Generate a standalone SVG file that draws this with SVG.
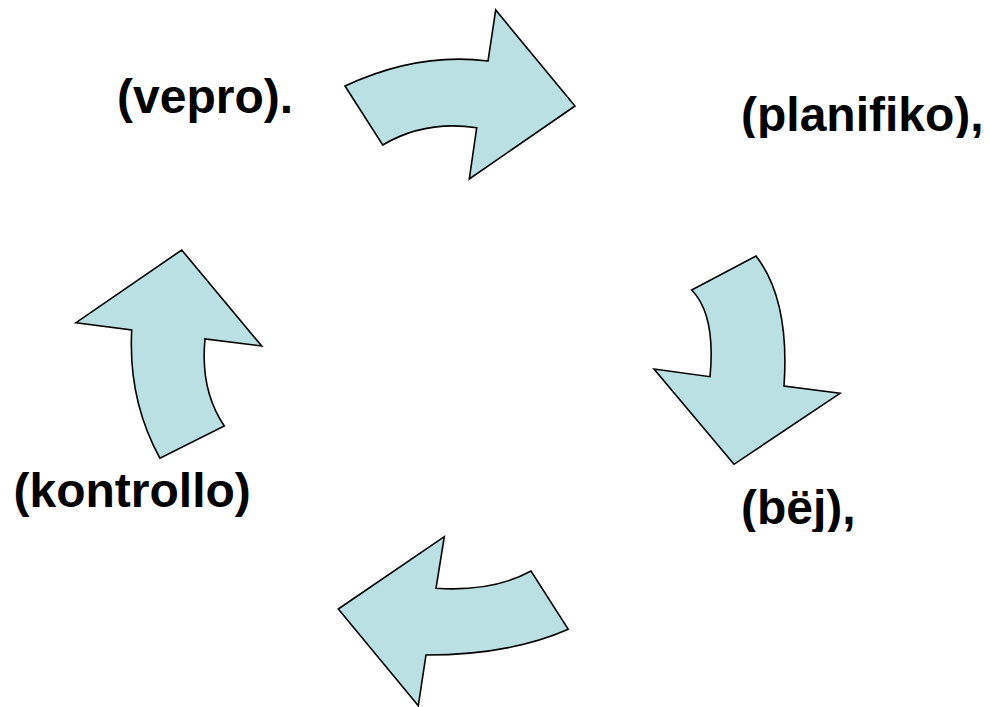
<svg xmlns="http://www.w3.org/2000/svg" width="990" height="707" viewBox="0 0 990 707">
<style>
.arrow{fill:#BBE0E3;stroke:#000;stroke-width:1.6;stroke-linejoin:miter}
.lbl{font-family:"Liberation Sans",Arial,sans-serif;font-weight:bold;font-size:48px;fill:#000}
</style>
<defs>
<clipPath id="c1"><rect x="0" y="0" width="990" height="123"/></clipPath>
<clipPath id="c2"><rect x="0" y="0" width="990" height="138"/></clipPath>
<clipPath id="c3"><rect x="0" y="0" width="990" height="532"/></clipPath>
<clipPath id="c4"><rect x="0" y="0" width="990" height="517"/></clipPath>
</defs>
<rect width="990" height="707" fill="#fff"/>
<g id="connectors">
<path id="arrow-top" class="arrow" d="M345,86 Q418,52 488,61 L495.7,10 L575,106 L469.3,179 L476.7,127.7 Q425,120 382.7,145 Z"/>
<path id="arrow-right" class="arrow" d="M691.7,290 L756,256 Q790,300 784,386 L840,393.3 L734,464.3 L654,369 L710,376.7 Q716,315 691.7,290 Z"/>
<path id="arrow-bottom" class="arrow" d="M338.3,609 L444.3,536.7 L436,588.3 Q493,592 531,571 L568.3,629.3 Q510,655 426,655 L418.3,705.7 Z"/>
<path id="arrow-left" class="arrow" d="M181.7,250 L261.7,346 L205,339 Q200,390 224.3,426 L160,458.3 Q128,400 131.7,330 L76,322.7 Z"/>
</g>
<g id="node-vepro" clip-path="url(#c1)"><text class="lbl" x="117" y="113">(vepro).</text></g>
<g id="node-planifiko" clip-path="url(#c2)"><text class="lbl" x="741" y="131">(planifiko),</text></g>
<g id="node-bej" clip-path="url(#c3)"><text class="lbl" x="741" y="524">(bëj),</text></g>
<g id="node-kontrollo" clip-path="url(#c4)"><text class="lbl" x="13.5" y="507">(kontrollo)</text></g>
</svg>
